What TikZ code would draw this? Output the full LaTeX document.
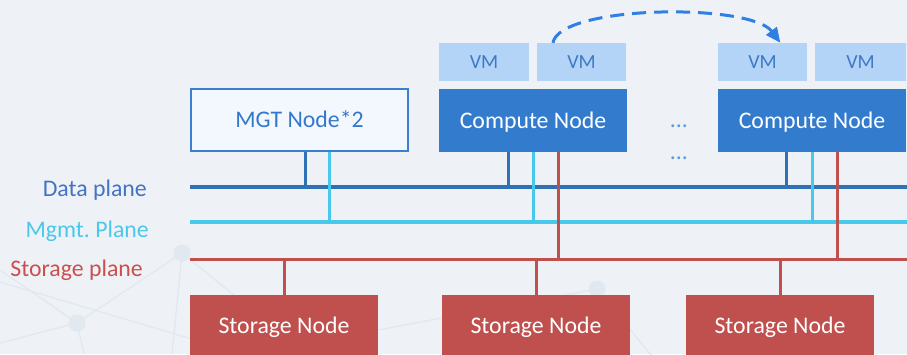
\documentclass[tikz,border=0pt]{standalone}
\usepackage{fontspec}
\setmainfont{Carlito}
\usetikzlibrary{arrows.meta,calc}

\definecolor{bgcol}{HTML}{EEF2F6}
\definecolor{netcol}{HTML}{E1E8F0}
\definecolor{computeblue}{HTML}{337CCD}
\definecolor{mgtborder}{HTML}{3A7FD0}
\definecolor{mgtfill}{HTML}{F2F8FE}
\definecolor{mgttext}{HTML}{3478CC}
\definecolor{vmfill}{HTML}{B4D4F7}
\definecolor{vmtext}{HTML}{3D79C6}
\definecolor{datacol}{HTML}{2E72B5}
\definecolor{mgmtcol}{HTML}{48C8EA}
\definecolor{storcol}{HTML}{C0504D}
\definecolor{datatext}{HTML}{4472C4}
\definecolor{mgmttext}{HTML}{4CC7EA}
\definecolor{stortext}{HTML}{C9504D}
\definecolor{migcol}{HTML}{2F7FE5}
\definecolor{dotcol}{HTML}{5B9BD5}

\tikzset{
  bigfont/.style={font=\fontsize{23.8}{28}\selectfont},
  box/.style={rectangle, inner sep=0pt, bigfont, text height=15.3pt, text depth=0pt},
  computebox/.style={box, fill=computeblue, text=white, minimum width=188pt, minimum height=63pt},
  mgtbox/.style={box, draw=mgtborder, line width=2pt, fill=mgtfill, text=mgttext,
                 minimum width=217pt, minimum height=62pt},
  storagebox/.style={box, fill=storcol, text=white, minimum width=188pt, minimum height=61pt},
  vmbox/.style={rectangle, inner sep=0pt, fill=vmfill, text=vmtext, minimum height=38pt,
                font=\fontsize{20}{24}\selectfont, text height=12.9pt, text depth=0pt},
  planelabel/.style={inner sep=0pt, bigfont, anchor=base east},
  dataline/.style={draw=datacol, line width=3.2pt},
  mgmtline/.style={draw=mgmtcol, line width=3.2pt},
  storline/.style={draw=storcol, line width=3.2pt},
  tap/.style={line width=3pt},
  netline/.style={draw=netcol, line width=1.3pt},
  netdot/.style={fill=netcol},
}

\begin{document}
\begin{tikzpicture}[x=1pt, y=-1pt]
  % canvas
  \useasboundingbox (0,0) rectangle (907,354);
  \clip (0,0) rectangle (907,354);
  \fill[bgcol] (0,0) rectangle (907,354);

  % faint network pattern in the background
  \draw[netline] (0,270) -- (77,323) -- (182,253) -- (172,354);
  \draw[netline] (0,343) -- (77,323) -- (84,354);
  \draw[netline] (0,282) -- (330,380);
  \draw[netline] (182,253) -- (240,300);
  \draw[netline] (597,289) -- (378,330);
  \draw[netline] (597,289) -- (655,360);
  \fill[netdot] (182,253) circle (8.5);
  \fill[netdot] (77,323) circle (8.5);
  \fill[netdot] (597,289) circle (8.5);

  % nodes
  \node[mgtbox] (mgt) at (299.5,120) {MGT Node*2};
  \node[computebox] (c1) at (533,120.5) {Compute Node};
  \node[computebox] (c2) at (812,120.5) {Compute Node};
  \node[vmbox, minimum width=90pt] (vm1) at (484,62) {VM};
  \node[vmbox, minimum width=89pt] (vm2) at (581.5,62) {VM};
  \node[vmbox, minimum width=89pt] (vm3) at (762.5,62) {VM};
  \node[vmbox, minimum width=91pt] (vm4) at (860.5,62) {VM};
  \node[storagebox] (s1) at (284,325.5) {Storage Node};
  \node[storagebox] (s2) at (536,325.5) {Storage Node};
  \node[storagebox] (s3) at (780,325.5) {Storage Node};

  % ellipses between the compute nodes
  \node[inner sep=0pt, bigfont, text=dotcol, anchor=base] (dotsA) at (679,127.5) {...};
  \node[inner sep=0pt, bigfont, text=dotcol, anchor=base] (dotsB) at (679,159.5) {...};

  % plane labels
  \node[planelabel, text=datatext] (lblData) at (147,196) {Data plane};
  \node[planelabel, text=mgmttext] (lblMgmt) at (149,237) {Mgmt.\ Plane};
  \node[planelabel, text=stortext] (lblStor) at (143,276) {Storage plane};

  % plane buses
  \coordinate (dataL) at (190,187);   \coordinate (dataR) at (907,187);
  \coordinate (mgmtL) at (190,222);   \coordinate (mgmtR) at (907,222);
  \coordinate (storL) at (190,259.5); \coordinate (storR) at (907,259.5);
  \draw[dataline] (dataL) -- (dataR);
  \draw[mgmtline] (mgmtL) -- (mgmtR);
  \draw[storline] (storL) -- (storR);

  % taps from the nodes onto the buses
  \coordinate (mgtD) at ($(mgt.south)+(5.5,0)$);
  \coordinate (mgtM) at ($(mgt.south)+(29.5,0)$);
  \coordinate (c1D) at ($(c1.south)+(-25,0)$);
  \coordinate (c1M) at ($(c1.south)+(0,0)$);
  \coordinate (c1S) at ($(c1.south)+(25,0)$);
  \coordinate (c2D) at ($(c2.south)+(-26,0)$);
  \coordinate (c2M) at ($(c2.south)+(0,0)$);
  \coordinate (c2S) at ($(c2.south)+(25,0)$);

  \draw[datacol, tap] (mgtD) -- (mgtD |- dataL);
  \draw[datacol, tap] (c1D) -- (c1D |- dataL);
  \draw[datacol, tap] (c2D) -- (c2D |- dataL);
  \draw[mgmtcol, tap] (mgtM) -- (mgtM |- mgmtL);
  \draw[mgmtcol, tap] (c1M) -- (c1M |- mgmtL);
  \draw[mgmtcol, tap] (c2M) -- (c2M |- mgmtL);
  \draw[storcol, tap, shorten >=-1.5pt] (c1S) -- (c1S |- storL);
  \draw[storcol, tap, shorten >=-1.5pt] (c2S) -- (c2S |- storL);
  \draw[storcol, tap] (s1.north) -- (s1.north |- storL);
  \draw[storcol, tap] (s2.north) -- (s2.north |- storL);
  \draw[storcol, tap] (s3.north) -- (s3.north |- storL);

  % VM migration
  \coordinate (migA) at ($(vm2.north west)!0.18!(vm2.north east)$);
  \coordinate (migB) at ($(vm3.north west)!0.70!(vm3.north east)$);
  \draw[migcol, line width=3pt, dash pattern=on 14pt off 8pt,
        -{Triangle[length=15pt, width=13pt]}]
    (migA) .. controls +(7,-38) and +(-30,-40) .. (migB);
\end{tikzpicture}
\end{document}
